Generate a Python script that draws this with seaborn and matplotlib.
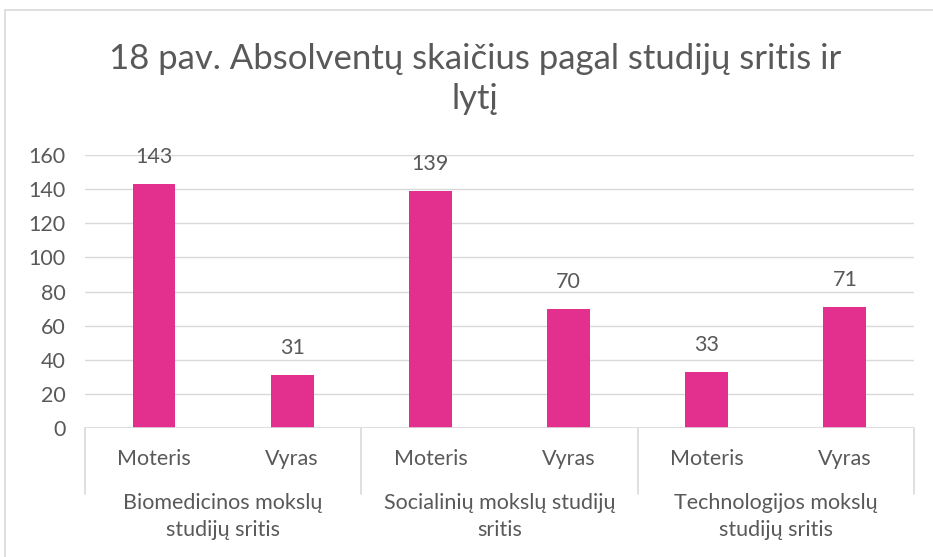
import numpy as np
import pandas as pd
import seaborn as sns
from matplotlib import pyplot as plt
from matplotlib.patches import Rectangle
from matplotlib.lines import Line2D

# Data
groups = ['Biomedicinos mokslų\nstudijų sritis',
          'Socialinių mokslų studijų\nsritis',
          'Technologijos mokslų\nstudijų sritis']
genders = ['Moteris', 'Vyras']
values = [143, 31, 139, 70, 33, 71]

labels = [f'{g}|{s}' for g in groups for s in genders]
df = pd.DataFrame({'kat': labels, 'n': values})

sns.set_style('white')
plt.rcParams['font.family'] = ['Lato', 'DejaVu Sans']
txt = '#595959'
grid = '#D9D9D9'
bar_col = '#E32F8E'
fs = 15.5

fig = plt.figure(figsize=(9.33, 5.57), dpi=100)
ax = fig.add_axes([0.0911, 0.2316, 0.9796 - 0.0911, 0.7217 - 0.2316])

sns.barplot(data=df, x='kat', y='n', color=bar_col, width=0.31,
            saturation=1, ax=ax, order=labels, linewidth=0)

ax.set_ylim(0, 160)
ax.set_yticks(range(0, 161, 20))
ax.yaxis.grid(True, color=grid, linewidth=1)
ax.set_axisbelow(True)
for s in ax.spines.values():
    s.set_visible(False)
ax.tick_params(axis='y', length=0, labelsize=fs, colors=txt, pad=14)
ax.set_xticks([])
ax.set_xlabel('')
ax.set_ylabel('')
ax.set_xlim(-0.5, len(labels) - 0.5)

for c in ax.containers:
    ax.bar_label(c, padding=12, fontsize=fs, color=txt)

# multi-level category axis
ax.axhline(0, color=grid, linewidth=1.2)
trans = ax.get_xaxis_transform()
for xs in [-0.5, 1.5, 3.5, 5.5]:
    ax.add_line(Line2D([xs, xs], [0, -0.243], transform=trans, color=grid,
                       linewidth=1.2, clip_on=False))
for i, lab in enumerate(labels):
    ax.text(i, -0.113, lab.split('|')[1], transform=trans, ha='center',
            va='center', fontsize=fs, color=txt)
for j, g in enumerate(groups):
    ax.text(2 * j + 0.5, -0.323, g, transform=trans, ha='center',
            va='center', fontsize=fs, color=txt, linespacing=1.45)

fig.text(0.509, 0.858, '18 pav. Absolventų skaičius pagal studijų sritis ir\nlytį',
         ha='center', va='center', fontsize=25, color=txt, linespacing=1.3)

fig.patches.append(Rectangle((5 / 933, -0.1), 1.2, 1.1 - 10 / 557,
                             transform=fig.transFigure, fill=False,
                             edgecolor=grid, linewidth=1.2))

fig.savefig('out.png', dpi=100)
